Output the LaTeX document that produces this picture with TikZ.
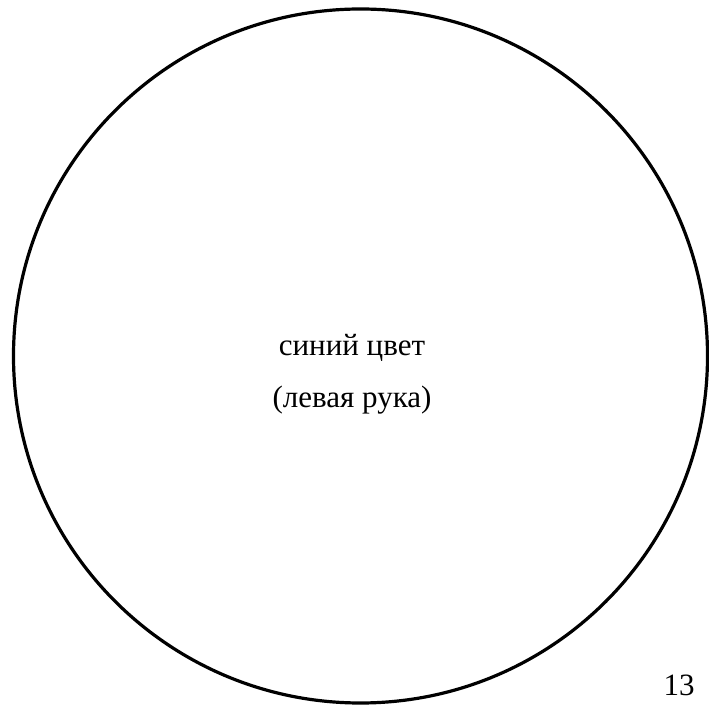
\documentclass[tikz,border=0pt]{standalone}
\usepackage{fontspec}
\setmainfont{Liberation Serif}
\tikzset{
  ring/.style={draw=black, line width=3.2pt},
  txt/.style={font=\fontsize{31}{31}\selectfont, inner sep=0pt, anchor=base}
}
\begin{document}
\begin{tikzpicture}[x=1pt,y=1pt]
\useasboundingbox (0,0) rectangle (709,707);
\node[ring, circle, minimum size=694pt, inner sep=0pt] (c) at (360.5,351) {};
\node[txt] (t1) at (352,351) {синий цвет};
\node[txt] (t2) at (352,299) {(левая рука)};
\node[txt] (n) at (679,12) {13};
\end{tikzpicture}
\end{document}
